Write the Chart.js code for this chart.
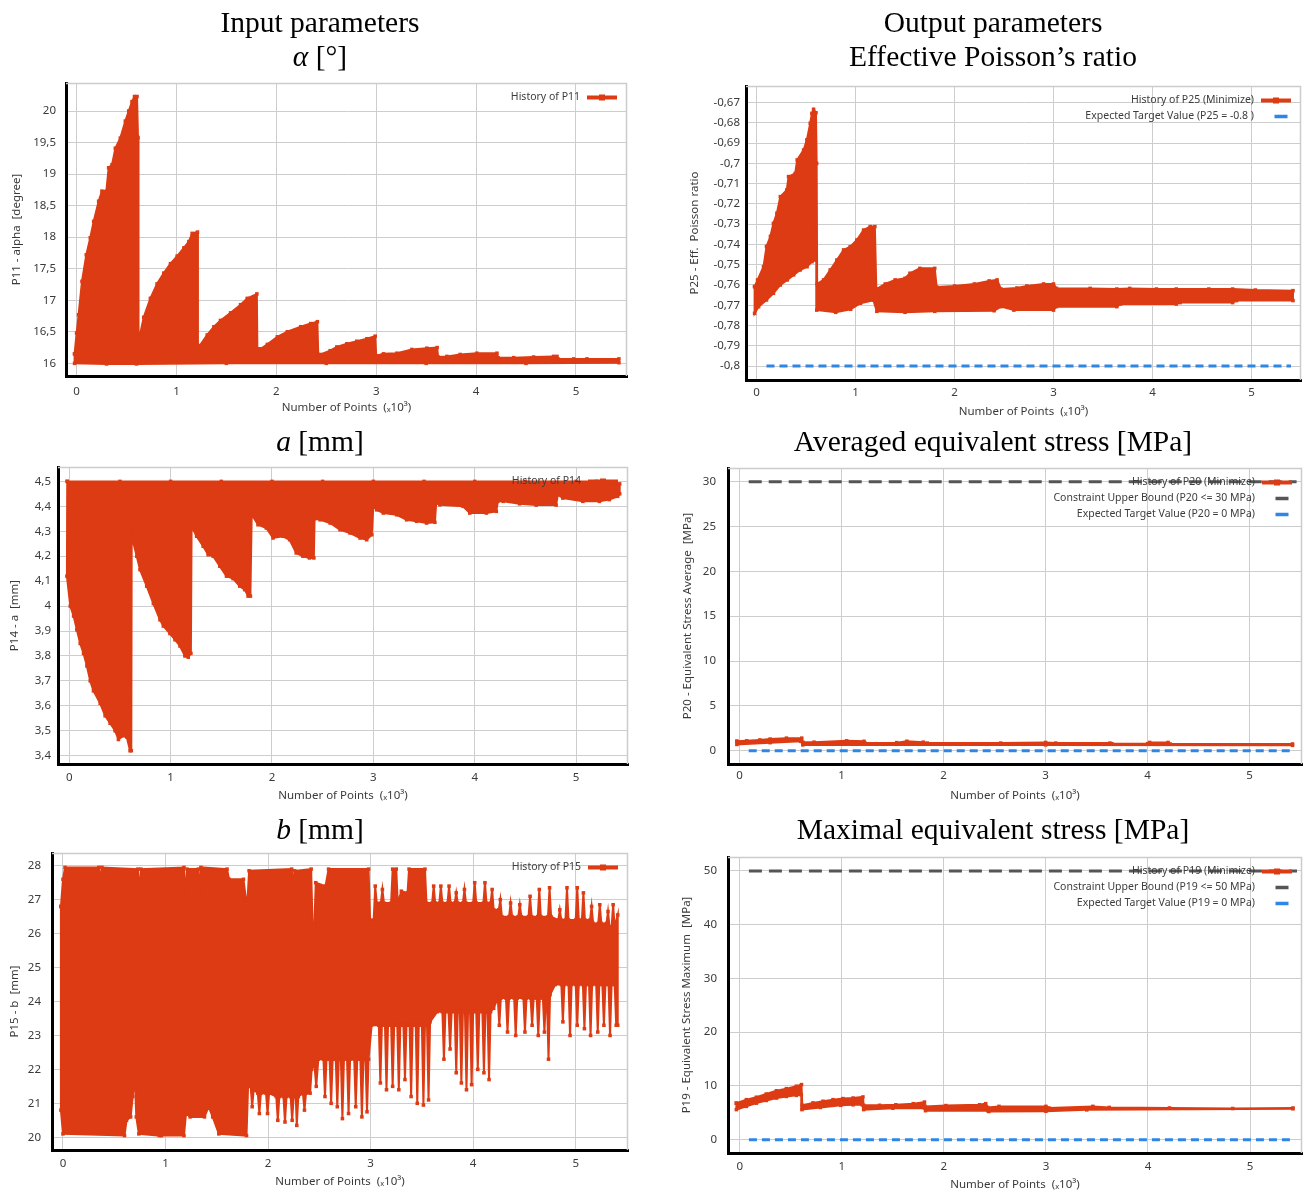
<!DOCTYPE html>
<html><head><meta charset="utf-8">
<script src="https://cdn.jsdelivr.net/npm/chart.js@4.4.1/dist/chart.umd.min.js"></script>
<style>
html,body{margin:0;padding:0;background:#fff;width:1306px;height:1193px;overflow:hidden;}
canvas{position:absolute;}
.t{position:absolute;width:600px;text-align:center;font-family:"Liberation Serif","Times New Roman",serif;font-size:29.5px;line-height:34px;color:#000;}
</style></head><body>
<canvas id="c1"></canvas><canvas id="c2"></canvas><canvas id="c3"></canvas>
<canvas id="c4"></canvas><canvas id="c5"></canvas><canvas id="c6"></canvas>
<div class="t" style="left:20px;top:5px">Input parameters<br><i>α</i> [°]</div>
<div class="t" style="left:693px;top:5px">Output parameters<br>Effective Poisson’s ratio</div>
<div class="t" style="left:20px;top:424px"><i>a</i> [mm]</div>
<div class="t" style="left:693px;top:424px">Averaged equivalent stress [MPa]</div>
<div class="t" style="left:20px;top:812px"><i>b</i> [mm]</div>
<div class="t" style="left:693px;top:812px">Maximal equivalent stress [MPa]</div>
<script>
// ---------- tick values ----------
const X_TICKS = [0, 1, 2, 3, 4, 5];
const P11_TICKS = [16, 16.5, 17, 17.5, 18, 18.5, 19, 19.5, 20];
const P25_TICKS = [-0.8, -0.79, -0.78, -0.77, -0.76, -0.75, -0.74, -0.73, -0.72, -0.71, -0.7, -0.69, -0.68, -0.67];
const P14_TICKS = [3.4, 3.5, 3.6, 3.7, 3.8, 3.9, 4.0, 4.1, 4.2, 4.3, 4.4, 4.5];
const P20_TICKS = [0, 5, 10, 15, 20, 25, 30];
const P15_TICKS = [20, 21, 22, 23, 24, 25, 26, 27, 28];
const P19_TICKS = [0, 10, 20, 30, 40, 50];

// ---------- History of P11 (alpha): upper / lower envelope of the dense history, x in 10^3 points ----------
const P11_UPPER = [[-0.02,16.15],[0.0,16.48],[0.02,16.77],[0.054,17.3],[0.097,17.72],[0.137,17.99],[0.171,18.25],[0.221,18.57],[0.254,18.73],[0.298,18.73],[0.321,19.1],[0.355,19.15],[0.388,19.41],[0.438,19.57],[0.488,19.84],[0.522,20.0],[0.555,20.15],[0.58,20.23],[0.605,20.23],[0.615,19.58],[0.62,16.43],
 [0.632,16.43],[0.672,16.73],[0.739,17.03],[0.806,17.26],[0.873,17.43],[0.94,17.58],[1.007,17.7],[1.074,17.83],[1.124,17.93],[1.157,18.06],[1.21,18.08],[1.215,16.28],
 [1.234,16.28],[1.308,16.45],[1.375,16.58],[1.441,16.68],[1.542,16.8],[1.642,16.93],[1.709,17.03],[1.805,17.1],[1.81,16.23],
 [1.843,16.23],[1.91,16.3],[2.01,16.42],[2.11,16.5],[2.244,16.58],[2.344,16.63],[2.411,16.66],[2.42,16.14],
 [2.44,16.14],[2.539,16.2],[2.606,16.26],[2.706,16.31],[2.806,16.35],[2.907,16.39],[2.99,16.43],[3.0,16.12],
 [3.073,16.15],[3.207,16.16],[3.357,16.22],[3.507,16.24],[3.61,16.25],[3.62,16.1],
 [3.708,16.11],[3.841,16.14],[4.008,16.16],[4.209,16.16],[4.22,16.09],
 [4.376,16.09],[4.576,16.1],[4.776,16.11],[4.81,16.11],[4.82,16.07],
 [4.977,16.07],[5.11,16.07],[5.43,16.07]];
const P11_LOWER = [[-0.02,16.0],[0.3,15.99],[0.6,15.99],[1.5,16.0],[2.5,16.0],[3.5,16.0],[4.5,16.0],[5.43,16.01]];

// ---------- History of P25 (Eff. Poisson ratio) ----------
const P25_UPPER = [[-0.02,-0.7608],[0.01,-0.7575],[0.07,-0.751],[0.1,-0.741],[0.14,-0.736],[0.17,-0.7296],[0.205,-0.7246],[0.24,-0.7164],[0.305,-0.7131],[0.323,-0.7065],[0.39,-0.7049],[0.41,-0.6983],[0.475,-0.6934],[0.508,-0.6884],[0.542,-0.6802],[0.559,-0.6753],[0.576,-0.6733],[0.6,-0.675],[0.607,-0.7],[0.612,-0.7595],
 [0.677,-0.7575],[0.744,-0.7526],[0.811,-0.7477],[0.879,-0.7427],[0.946,-0.7411],[1.013,-0.7378],[1.081,-0.7329],[1.148,-0.7312],[1.195,-0.7312],[1.21,-0.762],
 [1.3,-0.7595],[1.4,-0.7575],[1.5,-0.7567],[1.55,-0.7542],[1.65,-0.7518],[1.8,-0.7518],[1.82,-0.761],
 [2.0,-0.7605],[2.2,-0.7595],[2.35,-0.758],[2.43,-0.7575],[2.47,-0.762],[2.63,-0.7615],[2.73,-0.7605],[2.9,-0.7595],[3.0,-0.7595],[3.03,-0.7617],[3.37,-0.7617],[3.64,-0.762],[3.77,-0.7617],[4.04,-0.762],[4.24,-0.762],[4.57,-0.762],[4.81,-0.762],[5.04,-0.7625],[5.42,-0.7628]];
const P25_LOWER = [[-0.02,-0.774],[0.02,-0.7707],[0.1,-0.7674],[0.17,-0.7641],[0.24,-0.76],[0.31,-0.7575],[0.375,-0.755],[0.44,-0.7526],[0.51,-0.751],[0.56,-0.7485],[0.603,-0.7477],[0.608,-0.7724],
 [0.8,-0.7735],[0.95,-0.772],[1.05,-0.769],[1.18,-0.7675],[1.215,-0.773],[1.5,-0.7735],[1.8,-0.773],[2.4,-0.7727],[2.47,-0.7707],[2.6,-0.7724],[3.0,-0.7724],[3.03,-0.7707],[3.64,-0.7707],[3.68,-0.7694],[4.24,-0.7694],[4.28,-0.7687],[4.81,-0.7687],[4.85,-0.7677],[5.42,-0.7677]];
const P25_TARGET = [[0.1,-0.8],[5.4,-0.8]];

// ---------- History of P14 (a) ----------
const P14_UPPER = [[-0.02,4.5],[0.5,4.5],[1.0,4.5],[1.5,4.5],[2.0,4.5],[2.5,4.5],[3.0,4.5],[3.5,4.5],[4.0,4.5],[4.5,4.5],[5.0,4.5],[5.2,4.5],[5.43,4.49]];
const P14_LOWER = [[-0.023,4.12],[0.01,4.0],[0.043,3.96],[0.075,3.905],[0.108,3.85],[0.141,3.81],[0.174,3.76],[0.207,3.7],[0.239,3.66],[0.305,3.61],[0.354,3.56],[0.403,3.53],[0.452,3.5],[0.485,3.465],[0.534,3.48],[0.567,3.475],[0.6,3.42],[0.612,3.42],[0.616,4.28],
 [0.666,4.2],[0.698,4.146],[0.764,4.08],[0.83,4.01],[0.895,3.945],[0.928,3.92],[0.993,3.89],[1.043,3.865],[1.092,3.84],[1.141,3.8],[1.174,3.795],[1.2,3.81],[1.207,4.32],
 [1.256,4.28],[1.321,4.24],[1.37,4.206],[1.42,4.2],[1.485,4.16],[1.551,4.12],[1.616,4.11],[1.682,4.08],[1.731,4.066],[1.764,4.04],[1.787,4.04],[1.8,4.367],
 [1.862,4.326],[1.944,4.313],[2.01,4.273],[2.108,4.28],[2.174,4.266],[2.239,4.213],[2.305,4.2],[2.37,4.193],[2.413,4.193],[2.42,4.35],
 [2.475,4.346],[2.574,4.333],[2.672,4.306],[2.77,4.293],[2.869,4.273],[2.934,4.266],[2.984,4.286],[3.0,4.4],
 [3.033,4.386],[3.098,4.373],[3.23,4.366],[3.328,4.346],[3.426,4.34],[3.525,4.333],[3.607,4.336],[3.62,4.413],
 [3.656,4.406],[3.885,4.4],[3.951,4.373],[4.115,4.373],[4.213,4.38],[4.228,4.42],
 [4.28,4.42],[4.443,4.41],[4.607,4.405],[4.803,4.405],[4.82,4.447],
 [4.869,4.433],[5.066,4.42],[5.23,4.42],[5.328,4.427],[5.41,4.44],[5.43,4.45]];

// ---------- History of P20 (equivalent stress average) ----------
const P20_UPPER = [[-0.026,1.05],[0.07,1.1],[0.2,1.2],[0.3,1.3],[0.46,1.4],[0.61,1.4],[0.62,0.95],[0.73,0.95],[1.05,1.1],[1.22,1.05],[1.23,0.85],[1.54,0.9],[1.64,1.05],[1.8,0.95],[1.84,0.85],[2.56,0.85],[3.0,0.92],[3.1,0.85],[3.63,0.85],[3.65,0.78],[4.0,0.78],[4.02,0.92],[4.2,0.92],[4.22,0.75],[5.42,0.75]];
const P20_LOWER = [[-0.026,0.7],[0.3,0.9],[0.6,1.05],[0.62,0.65],[3.0,0.65],[5.42,0.6]];
const P20_BOUND = [[0.09,30],[5.46,30]];
const P20_TARGET = [[0.09,0],[5.4,0]];

// ---------- History of P15 (b) ----------
const P15_UPPER = [[-0.02,26.8],[0.0,27.6],[0.02,27.95],[0.35,27.95],[0.365,27.6],[0.38,27.95],[0.73,27.9],[0.745,27.2],[0.76,27.9],[1.18,27.95],[1.195,27.1],[1.21,27.9],[1.32,27.9],[1.33,27.0],[1.345,27.95],[1.6,27.9],[1.62,27.6],[1.76,27.6],[1.785,27.0],[1.8,27.0],[1.815,27.85],[2.23,27.9],[2.245,27.5],[2.26,27.85],[2.42,27.9],[2.435,26.1],[2.45,26.1],[2.465,27.5],[2.56,27.4],[2.59,27.9],[2.98,27.9],[2.995,26.4],[3.03,26.4],[3.045,27.4],[3.06,26.9],[3.1,26.9],[3.115,27.3],[3.13,26.9],[3.2,26.9],[3.215,27.9],[3.25,27.9],[3.265,26.9],[3.3,27.25],[3.36,27.2],[3.375,27.9],[3.53,27.9],[3.545,26.9],[3.6,26.9],[3.615,27.4],[3.63,26.9],[3.67,26.9],[3.685,27.4],[3.7,26.9],[3.75,26.9],[3.765,27.4],[3.78,26.9],[3.82,26.9],[3.835,27.2],[3.85,26.9],[3.9,26.9],[3.915,27.3],[3.93,26.9],[4.0,26.9],[4.015,27.5],[4.03,26.9],[4.1,26.9],[4.115,27.5],[4.13,26.9],[4.17,26.9],[4.185,27.3],[4.2,26.7],[4.25,26.7],[4.265,27.0],[4.28,26.5],[4.35,26.5],[4.365,26.9],[4.38,26.5],[4.44,26.5],[4.455,26.85],[4.47,26.5],[4.54,26.5],[4.555,27.1],[4.57,26.5],[4.63,26.5],[4.645,27.3],[4.66,26.5],[4.73,26.5],[4.745,27.35],[4.76,26.5],[4.83,26.4],[4.845,26.7],[4.86,26.4],[4.9,26.4],[4.915,27.35],[4.93,26.4],[5.0,26.4],[5.015,27.35],[5.03,26.4],[5.06,26.4],[5.075,27.2],[5.09,26.4],[5.14,26.4],[5.155,26.8],[5.17,26.3],[5.22,26.3],[5.235,26.85],[5.25,26.3],[5.3,26.3],[5.315,26.65],[5.33,26.2],[5.35,26.2],[5.365,26.85],[5.38,26.2],[5.41,26.55]];
const P15_LOWER = [[-0.02,20.8],[0.0,20.1],[0.6,20.05],[0.62,20.5],[0.66,20.6],[0.68,21.2],[0.7,21.8],[0.715,20.6],[0.74,20.1],[0.94,20.05],[0.95,20.3],[0.96,20.05],[1.18,20.05],[1.2,20.7],[1.24,20.6],[1.38,20.6],[1.42,20.9],[1.46,20.6],[1.52,20.1],[1.79,20.05],
 [1.805,21.5],[1.83,21.5],[1.845,20.9],[1.86,21.4],[1.9,21.3],[1.915,20.7],[1.93,21.3],[1.98,21.3],[1.995,20.7],[2.01,21.3],[2.08,21.2],[2.095,20.5],[2.11,21.2],[2.15,21.2],[2.165,20.45],[2.18,21.2],[2.22,21.2],[2.235,20.5],[2.25,21.2],[2.27,21.2],[2.28,20.35],[2.295,21.2],[2.34,21.3],[2.355,20.8],[2.37,21.3],[2.41,21.3],[2.425,22.0],[2.45,22.2],
 [2.47,21.5],[2.49,22.3],[2.54,22.3],[2.555,21.2],[2.57,22.3],[2.6,22.3],[2.615,21.0],[2.63,22.3],[2.66,22.3],[2.675,20.9],[2.69,22.3],[2.71,22.3],[2.725,20.55],[2.74,22.3],[2.77,22.3],[2.785,20.7],[2.8,22.3],[2.84,22.3],[2.855,20.9],[2.87,22.3],[2.9,22.3],[2.915,20.6],[2.93,22.3],[2.95,22.3],[2.965,20.75],[2.98,22.3],
 [3.01,23.3],[3.08,23.3],[3.095,21.6],[3.11,23.3],[3.14,23.3],[3.155,21.4],[3.17,23.3],[3.2,23.3],[3.215,21.5],[3.23,23.3],[3.26,23.3],[3.275,21.4],[3.29,23.3],[3.32,23.3],[3.335,21.7],[3.35,23.3],[3.38,23.3],[3.395,21.2],[3.41,23.3],[3.44,23.3],[3.455,21.0],[3.47,23.3],[3.5,23.3],[3.515,20.95],[3.53,23.3],[3.55,23.3],[3.565,21.1],[3.58,23.4],
 [3.65,23.7],[3.7,23.7],[3.715,22.3],[3.73,23.7],[3.76,23.7],[3.775,22.6],[3.79,23.7],[3.82,23.7],[3.835,21.9],[3.85,23.7],[3.87,23.7],[3.885,21.6],[3.9,23.7],[3.92,23.7],[3.935,21.4],[3.95,23.7],[3.97,23.7],[3.985,21.55],[4.0,23.7],[4.03,23.7],[4.045,22.0],[4.06,23.7],[4.09,23.7],[4.105,21.9],[4.12,23.7],[4.14,23.7],[4.155,21.7],[4.17,23.7],[4.2,23.8],
 [4.24,24.1],[4.255,23.3],[4.27,24.1],[4.32,24.1],[4.335,23.1],[4.35,24.1],[4.4,24.1],[4.415,23.0],[4.43,24.1],[4.49,24.1],[4.505,23.1],[4.52,24.1],[4.56,24.1],[4.575,23.3],[4.59,24.1],[4.62,24.1],[4.635,23.0],[4.65,24.1],[4.68,24.1],[4.695,23.1],[4.71,24.1],[4.72,24.1],[4.735,22.3],[4.75,24.2],
 [4.8,24.5],[4.86,24.5],[4.875,23.4],[4.89,24.5],[4.93,24.5],[4.945,23.0],[4.96,24.5],[5.0,24.5],[5.015,23.3],[5.03,24.5],[5.07,24.5],[5.085,23.2],[5.1,24.5],[5.13,24.5],[5.145,23.0],[5.16,24.5],[5.2,24.5],[5.215,23.1],[5.23,24.5],[5.26,24.5],[5.275,23.3],[5.29,24.5],[5.32,24.5],[5.335,23.0],[5.35,24.5],[5.38,24.5],[5.395,23.3],[5.41,23.3]];

// ---------- History of P19 (equivalent stress maximum) ----------
const P19_UPPER = [[-0.033,6.8],[0.065,7.45],[0.163,7.9],[0.26,8.5],[0.36,9.1],[0.457,9.5],[0.555,9.95],[0.605,10.25],[0.613,6.4],[0.718,6.85],[0.816,7.15],[0.914,7.45],[1.011,7.65],[1.11,7.75],[1.207,7.95],[1.214,6.4],[1.37,6.4],[1.53,6.5],[1.7,6.7],[1.81,7.0],[1.817,6.2],[2.02,6.35],[2.35,6.5],[2.41,6.7],[2.43,6.0],[2.54,6.2],[3.0,6.2],[3.03,5.9],[3.46,6.2],[3.62,6.0],[4.21,5.9],[4.83,5.8],[5.42,5.9]];
const P19_LOWER = [[-0.033,5.6],[0.065,6.2],[0.163,6.8],[0.26,7.3],[0.36,7.75],[0.457,8.05],[0.555,8.25],[0.603,8.35],[0.61,5.6],[0.79,6.0],[0.99,6.4],[1.11,6.5],[1.2,6.5],[1.214,5.6],[1.5,5.85],[1.81,5.9],[1.82,5.4],[2.43,5.4],[2.44,5.25],[3.0,5.3],[3.4,5.55],[5.42,5.75]];
const P19_BOUND = [[0.09,50],[5.46,50]];
const P19_TARGET = [[0.09,0],[5.4,0]];

// ---------- styling ----------
const RED = '#dd3b13', BLUE = '#2f86e6', GRAY = '#555555';
Chart.defaults.font.family = '"Noto Sans", "DejaVu Sans", sans-serif';
Chart.defaults.color = '#3a3a3a';

function toPts(arr) { return arr.map(([x, y]) => ({x, y})); }
function band(upper, lower) {
  const pts = upper.concat(lower.slice().reverse());
  pts.push(upper[0]);
  return toPts(pts);
}
function seriesDs(label, upper, lower) {
  return {label, data: band(upper, lower), showLine: true, borderColor: RED, backgroundColor: RED,
    borderWidth: 2, fill: 'shape', pointStyle: 'rect', pointRadius: 2.5, pointBorderWidth: 0,
    pointBackgroundColor: RED, legendKind: 'series'};
}
function lineDs(label, arr, color, dash) {
  return {label, data: toPts(arr), showLine: true, borderColor: color, backgroundColor: color,
    borderWidth: 3, borderDash: dash, pointRadius: 0, fill: false, legendKind: 'bar'};
}
function fmt(v) { return String(+v.toFixed(3)).replace('.', ','); }

const framePlugin = {
  id: 'frame',
  beforeDatasetsDraw(chart) {
    const {ctx, chartArea: a} = chart;
    ctx.save(); ctx.strokeStyle = '#cccccc'; ctx.lineWidth = 1.5;
    ctx.beginPath(); ctx.moveTo(a.left, a.top + 0.5); ctx.lineTo(a.right - 0.5, a.top + 0.5); ctx.lineTo(a.right - 0.5, a.bottom); ctx.stroke();
    ctx.restore();
  }
};
const legendPlugin = {
  id: 'insideLegend',
  afterDatasetsDraw(chart) {
    const {ctx, chartArea: a} = chart;
    ctx.save();
    ctx.font = '10.5px "Noto Sans", "DejaVu Sans", sans-serif';
    ctx.textAlign = 'right'; ctx.textBaseline = 'middle';
    chart.data.datasets.forEach((ds, i) => {
      const y = a.top + 14.5 + 16 * i;
      ctx.fillStyle = '#3c3c3c';
      ctx.fillText(ds.label, a.right - 47, y);
      if (ds.legendKind === 'series') {
        const cx = a.right - 25;
        ctx.strokeStyle = ds.borderColor; ctx.lineWidth = 4; ctx.setLineDash([]);
        ctx.beginPath(); ctx.moveTo(cx - 15, y); ctx.lineTo(cx + 15, y); ctx.stroke();
        ctx.fillStyle = ds.borderColor; ctx.fillRect(cx - 3, y - 3, 6, 6);
      } else {
        const cx = a.right - 20;
        ctx.strokeStyle = ds.borderColor; ctx.lineWidth = 3.5; ctx.setLineDash([]);
        ctx.beginPath(); ctx.moveTo(cx - 6.5, y); ctx.lineTo(cx + 6.5, y); ctx.stroke();
      }
    });
    ctx.restore();
  }
};

const PANELS = [
  {id: 'c1', area: [66, 83, 627, 376], yW: 60, padR: 12, tickPad: 10, xPad: 9, xr: [-0.106, 5.511], yr: [15.799, 20.444], yTicks: P11_TICKS, yTitle: 'P11 - alpha  [degree]',
   datasets: [seriesDs('History of P11', P11_UPPER, P11_LOWER)]},
  {id: 'c2', area: [746, 86, 1302, 380], yW: 62, padR: 3, tickPad: 6, xPad: 6, xr: [-0.107, 5.501], yr: [-0.8069, -0.6618], yTicks: P25_TICKS, yTitle: 'P25 - Eff.  Poisson ratio',
   datasets: [seriesDs('History of P25 (Minimize)', P25_UPPER, P25_LOWER), lineDs('Expected Target Value (P25 = -0.8 )', P25_TARGET, BLUE, [8, 5])]},
  {id: 'c3', area: [58, 467, 628, 764], yW: 54, padR: 12, tickPad: 7, xPad: 7, xr: [-0.111, 5.512], yr: [3.3667, 4.5577], yTicks: P14_TICKS, yTitle: 'P14 - a  [mm]',
   datasets: [seriesDs('History of P14', P14_UPPER, P14_LOWER)]},
  {id: 'c4', area: [728, 468, 1303, 764], yW: 51, padR: 3, tickPad: 12, xPad: 5, xr: [-0.113, 5.513], yr: [-1.483, 31.53], yTicks: P20_TICKS, yTitle: 'P20 - Equivalent Stress Average  [MPa]',
   datasets: [seriesDs('History of P20 (Minimize)', P20_UPPER, P20_LOWER), lineDs('Constraint Upper Bound (P20 <= 30 MPa)', P20_BOUND, GRAY, [13, 7]), lineDs('Expected Target Value (P20 = 0 MPa)', P20_TARGET, BLUE, [8, 5])]},
  {id: 'c5', area: [52, 853, 628, 1150], yW: 48, padR: 12, tickPad: 11, xPad: 7, xr: [-0.107, 5.51], yr: [19.625, 28.375], yTicks: P15_TICKS, yTitle: 'P15 - b  [mm]',
   datasets: [seriesDs('History of P15', P15_UPPER, P15_LOWER)]},
  {id: 'c6', area: [728, 857, 1303, 1153], yW: 52, padR: 3, tickPad: 11, xPad: 7, xr: [-0.115, 5.509], yr: [-2.475, 52.6], yTicks: P19_TICKS, yTitle: 'P19 - Equivalent Stress Maximum  [MPa]',
   datasets: [seriesDs('History of P19 (Minimize)', P19_UPPER, P19_LOWER), lineDs('Constraint Upper Bound (P19 <= 50 MPa)', P19_BOUND, GRAY, [13, 7]), lineDs('Expected Target Value (P19 = 0 MPa)', P19_TARGET, BLUE, [8, 5])]}
];

PANELS.forEach(p => {
  const cv = document.getElementById(p.id);
  const [L, T, R, B] = p.area;
  const padTop = 24, xH = 43;
  const cl = L - p.yW, ct = T - padTop;
  const w = R + p.padR - cl, h = B + xH - ct;
  cv.width = w; cv.height = h;
  cv.style.left = cl + 'px'; cv.style.top = ct + 'px';
  cv.style.width = w + 'px'; cv.style.height = h + 'px';
  new Chart(cv, {
    type: 'scatter',
    data: {datasets: p.datasets},
    options: {
      responsive: false, animation: false, devicePixelRatio: 1,
      layout: {padding: {top: padTop, right: p.padR, left: 0, bottom: 0}},
      plugins: {legend: {display: false}, tooltip: {enabled: false}},
      scales: {
        x: {type: 'linear', min: p.xr[0], max: p.xr[1],
          afterBuildTicks: s => { s.ticks = X_TICKS.map(v => ({value: v})); },
          afterFit: s => { s.height = xH; },
          ticks: {padding: p.xPad, color: '#3a3a3a', font: {size: 11.5}, autoSkip: false, maxRotation: 0, includeBounds: false, callback: v => fmt(v)},
          grid: {color: '#cdcdcd', drawTicks: false, lineWidth: 1},
          border: {display: true, color: '#000', width: 3},
          title: {display: true, text: 'Number of Points  (ₓ10³)', color: '#3a3a3a', font: {size: 11.5}, padding: {top: 4, bottom: 4}}},
        y: {type: 'linear', min: p.yr[0], max: p.yr[1],
          afterBuildTicks: s => { s.ticks = p.yTicks.map(v => ({value: v})); },
          afterFit: s => { s.width = p.yW; },
          ticks: {padding: p.tickPad, color: '#3a3a3a', font: {size: 11.5}, autoSkip: false, includeBounds: false, callback: v => fmt(v)},
          grid: {color: '#cdcdcd', drawTicks: false, lineWidth: 1},
          border: {display: true, color: '#000', width: 3},
          title: {display: true, text: p.yTitle, color: '#3a3a3a', font: {size: 11.5}, padding: {top: 4, bottom: 4}}}
      }
    },
    plugins: [framePlugin, legendPlugin]
  });
});
</script>
</body></html>
